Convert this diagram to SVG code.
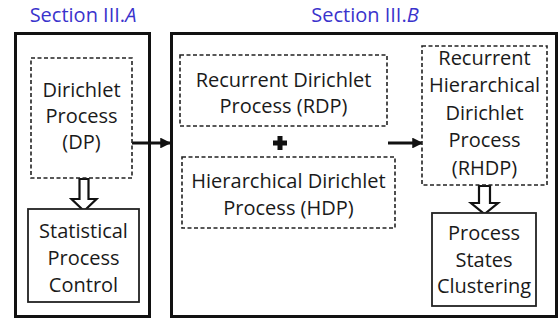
<svg xmlns="http://www.w3.org/2000/svg" width="559" height="320" viewBox="0 0 559 320">
<defs>
<style>
.sec{font-family:"Open Sans","Liberation Sans",sans-serif;font-size:20px;fill:#3a33cc;text-anchor:middle}
.t{font-family:"Open Sans","Liberation Sans",sans-serif;font-size:20px;fill:#1a1a1a;text-anchor:middle}
.outer{fill:none;stroke:#111;stroke-width:3}
.dash{fill:#fff;stroke:#222;stroke-width:1.6;stroke-dasharray:4 2.5}
.solid{fill:#fff;stroke:#222;stroke-width:1.8}
.conn{fill:none;stroke:#111;stroke-width:3}
.hollow{fill:#fff;stroke:#111;stroke-width:2.2;stroke-linejoin:miter}
</style>
<marker id="ah" viewBox="0 0 10 10" refX="9" refY="5" markerWidth="3.6" markerHeight="3.6" orient="auto" markerUnits="strokeWidth">
<path d="M0,0 L10,5 L0,10 Z" fill="#111"/>
</marker>
</defs>
<rect width="559" height="320" fill="#fff"/>
<text class="sec" x="83" y="22">Section III.<tspan font-style="italic">A</tspan></text>
<text class="sec" x="365" y="22">Section III.<tspan font-style="italic">B</tspan></text>
<g id="sectionA">
<rect class="outer" x="15.5" y="33.5" width="134" height="283"/>
</g>
<g id="sectionB">
<rect class="outer" x="171.5" y="33.5" width="385" height="283"/>
</g>
<g id="connectors">
<line class="conn" x1="132" y1="143" x2="170" y2="143" marker-end="url(#ah)"/>
<line class="conn" x1="388" y1="143" x2="422" y2="143" marker-end="url(#ah)"/>
<path class="hollow" d="M79.5,179 L88.5,179 L88.5,199 L96.5,199 L84,211 L71.5,199 L79.5,199 Z"/>
<path class="hollow" d="M479,186 L490,186 L490,203 L498,203 L484.5,214 L471,203 L479,203 Z"/>
</g>
<g id="dp">
<rect class="dash" x="31" y="58" width="101" height="120"/>
<text class="t" x="81.5" y="97">Dirichlet</text>
<text class="t" x="81.5" y="123">Process</text>
<text class="t" x="81.5" y="149">(DP)</text>
</g>
<g id="spc">
<rect class="solid" x="28" y="209" width="111" height="93"/>
<text class="t" x="83.5" y="238">Statistical</text>
<text class="t" x="83.5" y="265">Process</text>
<text class="t" x="83.5" y="292">Control</text>
</g>
<g id="rdp">
<rect class="dash" x="180" y="55" width="207" height="71"/>
<text class="t" x="283.5" y="87">Recurrent Dirichlet</text>
<text class="t" x="283.5" y="113">Process (RDP)</text>
</g>
<g id="plus">
<path d="M280,136 V150 M273,143 H287" stroke="#111" stroke-width="5" fill="none"/>
</g>
<g id="hdp">
<rect class="dash" x="182" y="157" width="213" height="71"/>
<text class="t" x="288.5" y="188">Hierarchical Dirichlet</text>
<text class="t" x="288.5" y="215">Process (HDP)</text>
</g>
<g id="rhdp">
<rect class="dash" x="422" y="46" width="125" height="139"/>
<text class="t" x="484.5" y="65">Recurrent</text>
<text class="t" x="484.5" y="92">Hierarchical</text>
<text class="t" x="484.5" y="120">Dirichlet</text>
<text class="t" x="484.5" y="147">Process</text>
<text class="t" x="484.5" y="175">(RHDP)</text>
</g>
<g id="psc">
<rect class="solid" x="432" y="213" width="104" height="93"/>
<text class="t" x="484" y="240">Process</text>
<text class="t" x="484" y="267">States</text>
<text class="t" x="484" y="293">Clustering</text>
</g>
</svg>
